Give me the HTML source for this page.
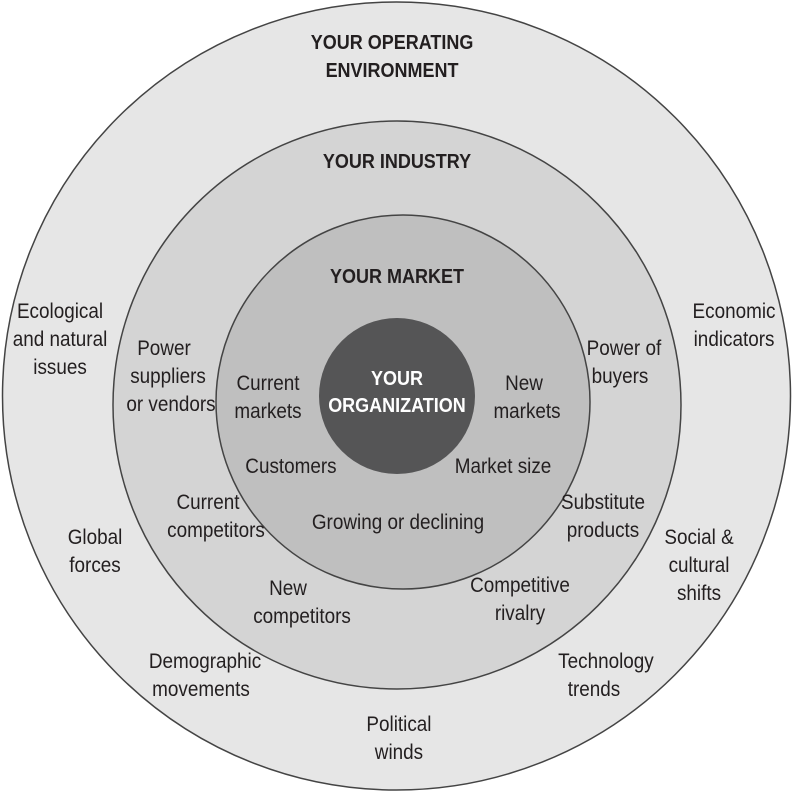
<!DOCTYPE html>
<html><head><style>
html,body{margin:0;padding:0;background:#fff}
svg text{font-family:"Liberation Sans Narrow","Liberation Sans",sans-serif;font-size:21px;fill:#231f20;text-anchor:middle}
.b{font-weight:bold;font-size:20px}
</style></head><body>
<svg width="793" height="792" viewBox="0 0 793 792">
<circle cx="396.5" cy="396" r="394" fill="#e6e6e6" stroke="#444" stroke-width="1.5"/>
<circle cx="397" cy="405" r="284" fill="#d4d4d4" stroke="#444" stroke-width="1.5"/>
<circle cx="403" cy="402" r="187" fill="#bfbfbf" stroke="#444" stroke-width="1.5"/>
<circle cx="397" cy="396" r="78" fill="#555556"/>
<g transform="scale(0.9 1)">
<text class="b" x="435.6" y="49">YOUR OPERATING</text>
<text class="b" x="435.6" y="77">ENVIRONMENT</text>
<text class="b" x="441.1" y="168">YOUR INDUSTRY</text>
<text class="b" x="441.1" y="283">YOUR MARKET</text>
<text class="b" x="441.1" y="385" style="fill:#fff">YOUR</text>
<text class="b" x="441.1" y="412" style="fill:#fff">ORGANIZATION</text>
<text x="66.7" y="318">Ecological</text>
<text x="66.7" y="346">and natural</text>
<text x="66.7" y="374">issues</text>
<text x="815.6" y="318">Economic</text>
<text x="815.6" y="346">indicators</text>
<text x="182.2" y="355">Power</text>
<text x="186.7" y="383">suppliers</text>
<text x="190" y="411">or vendors</text>
<text x="693.3" y="355">Power of</text>
<text x="688.9" y="383">buyers</text>
<text x="297.8" y="390">Current</text>
<text x="297.8" y="418">markets</text>
<text x="582.2" y="390">New</text>
<text x="585.6" y="418">markets</text>
<text x="323.3" y="473">Customers</text>
<text x="558.9" y="473">Market size</text>
<text x="231.1" y="509">Current</text>
<text x="240" y="537">competitors</text>
<text x="670" y="509">Substitute</text>
<text x="670" y="537">products</text>
<text x="442.2" y="529">Growing or declining</text>
<text x="105.6" y="544">Global</text>
<text x="105.6" y="572">forces</text>
<text x="776.7" y="544">Social &amp;</text>
<text x="776.7" y="572">cultural</text>
<text x="776.7" y="600">shifts</text>
<text x="320" y="595">New</text>
<text x="335.6" y="623">competitors</text>
<text x="577.8" y="592">Competitive</text>
<text x="577.8" y="620">rivalry</text>
<text x="227.8" y="668">Demographic</text>
<text x="223.3" y="696">movements</text>
<text x="673.3" y="668">Technology</text>
<text x="660" y="696">trends</text>
<text x="443.3" y="731">Political</text>
<text x="443.3" y="759">winds</text>
</g>
</svg>
</body></html>
